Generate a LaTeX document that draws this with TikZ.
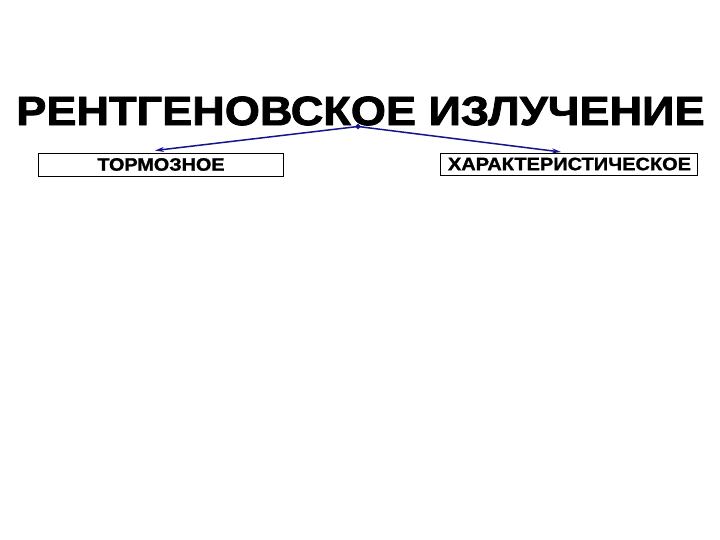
\documentclass[tikz,border=0pt]{standalone}
\usepackage{fontspec}
\setmainfont{Liberation Sans}
\newfontfamily\heavyfont[FakeBold=1.8]{Liberation Sans Bold}
\newfontfamily\boxfont[FakeBold=1.2]{Liberation Sans Bold}
\usetikzlibrary{arrows.meta,shapes.geometric}
\definecolor{arrowblue}{RGB}{20,20,140}
\tikzset{
  titletext/.style={inner sep=0pt, anchor=center, font=\heavyfont\fontsize{41}{41}\selectfont},
  labelbox/.style={draw=black, line width=0.6pt, inner sep=0pt, anchor=north west},
  labeltext/.style={inner sep=0pt, anchor=center, font=\boxfont\fontsize{18}{18}\selectfont},
  branch/.style={draw=arrowblue, line width=1.5pt, -{Stealth[length=9pt,width=5pt]}},
}
\begin{document}
\begin{tikzpicture}[x=1pt,y=-1pt]
\useasboundingbox (0,0) rectangle (720,540);
\fill[white] (0,0) rectangle (720,540);
\node[titletext] (title) at (360.5,111) {\scalebox{1.10}[1]{РЕНТГЕНОВСКОЕ ИЗЛУЧЕНИЕ}};
\node[labelbox, minimum width=245pt, minimum height=23pt] (brems) at (38,153) {};
\node[labeltext] (bremstext) at (161,164.5) {\scalebox{1.1}[1]{ТОРМОЗНОЕ}};
\node[labelbox, minimum width=257pt, minimum height=22pt] (charac) at (440,153) {};
\node[labeltext] (charactext) at (569.5,164) {\scalebox{1.11}[1]{ХАРАКТЕРИСТИЧЕСКОЕ}};
\coordinate (origin) at (358,126.5);
\coordinate (lend) at (155,150.5);
\coordinate (rend) at (561,152);
\draw[branch] (origin) -- (lend);
\draw[branch] (origin) -- (rend);
\node[diamond, fill=arrowblue, inner sep=0pt, minimum size=6pt] (dot) at (origin) {};
\end{tikzpicture}
\end{document}
